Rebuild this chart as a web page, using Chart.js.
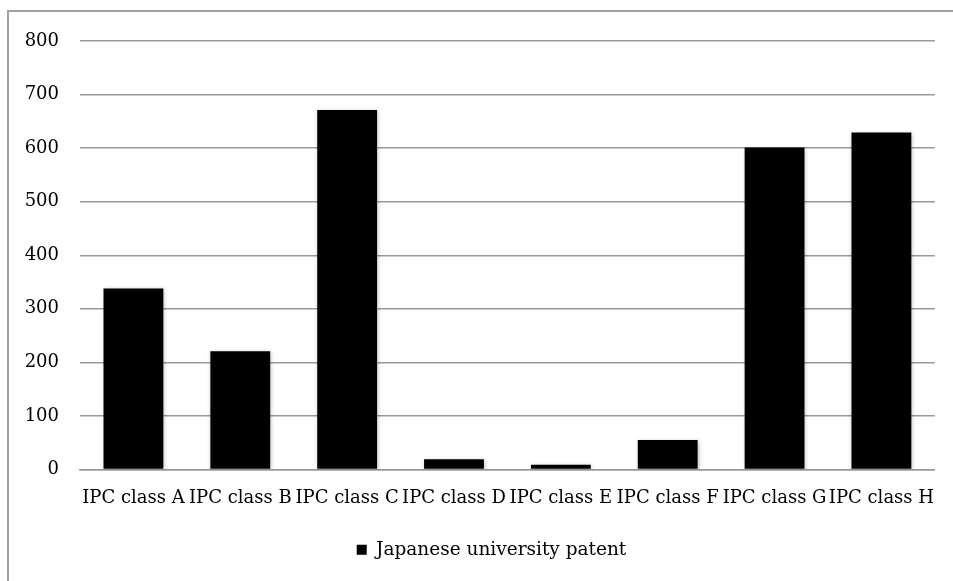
<!DOCTYPE html>
<html>
<head>
<meta charset="utf-8">
<script src="https://cdn.jsdelivr.net/npm/chart.js@4/dist/chart.umd.min.js"></script>
<style>
  html, body { margin: 0; padding: 0; background: #fff; }
  #wrap { width: 953px; height: 581px; position: relative; }
</style>
</head>
<body>
<div id="wrap"><canvas id="c" width="953" height="581"></canvas></div>
<script>
const categories = ["IPC class A", "IPC class B", "IPC class C", "IPC class D", "IPC class E", "IPC class F", "IPC class G", "IPC class H"];
const seriesName = "Japanese university patent";
const patentCounts = [338, 221, 671, 19, 9, 55, 601, 629];
const yTicks = [0, 100, 200, 300, 400, 500, 600, 700, 800];

const FONT = "'DejaVu Serif', serif";

const borderPlugin = {
  id: 'outerBorder',
  beforeDraw(chart) {
    const ctx = chart.ctx;
    ctx.save();
    ctx.fillStyle = '#fff';
    ctx.fillRect(0, 0, chart.width, chart.height);
    ctx.strokeStyle = '#a0a0a0';
    ctx.lineWidth = 2;
    ctx.beginPath();
    ctx.moveTo(8, chart.height);
    ctx.lineTo(8, 11);
    ctx.lineTo(chart.width, 11);
    ctx.stroke();
    ctx.restore();
  }
};

const legendShift = {
  id: 'legendShift',
  afterLayout(chart) {
    if (chart.legend) {
      chart.legend.left += 23;
      chart.legend.right += 23;
    }
  }
};

const shadowPlugin = {
  id: 'barShadow',
  beforeDatasetsDraw(chart) {
    const ctx = chart.ctx;
    ctx.save();
    ctx.shadowColor = 'rgba(0,0,0,0.25)';
    ctx.shadowBlur = 4;
    ctx.shadowOffsetX = 1;
    ctx.shadowOffsetY = 1;
  },
  afterDatasetsDraw(chart) {
    chart.ctx.restore();
  }
};

new Chart(document.getElementById('c'), {
  type: 'bar',
  data: {
    labels: categories,
    datasets: [{
      label: seriesName,
      data: patentCounts,
      backgroundColor: '#000000',
      borderWidth: 0,
      barPercentage: 0.56,
      categoryPercentage: 1.0
    }]
  },
  options: {
    responsive: false,
    animation: false,
    layout: { padding: { left: 0, right: 16, top: 41, bottom: 12 } },
    plugins: {
      legend: {
        display: true,
        position: 'bottom',
        labels: {
          boxWidth: 10,
          boxHeight: 10,
          color: '#000',
          padding: 10,
          font: { family: FONT, size: 18.5 }
        }
      },
      tooltip: { enabled: false }
    },
    scales: {
      x: {
        grid: { display: false, drawTicks: false },
        border: { display: true, color: '#999999', width: 1.5 },
        ticks: {
          color: '#000',
          padding: 18,
          maxRotation: 0,
          minRotation: 0,
          autoSkip: false,
          font: { family: FONT, size: 18 }
        },
        afterFit(scale) { scale.height = 61; }
      },
      y: {
        min: 0,
        max: 800,
        afterBuildTicks(scale) { scale.ticks = yTicks.map(v => ({ value: v })); },
        grid: { color: '#999999', lineWidth: 1.5, drawTicks: false },
        border: { display: false },
        ticks: {
          color: '#000',
          padding: 21,
          font: { family: FONT, size: 18 }
        },
        afterFit(scale) { scale.width = 80; }
      }
    }
  },
  plugins: [borderPlugin, legendShift, shadowPlugin]
});
</script>
</body>
</html>
